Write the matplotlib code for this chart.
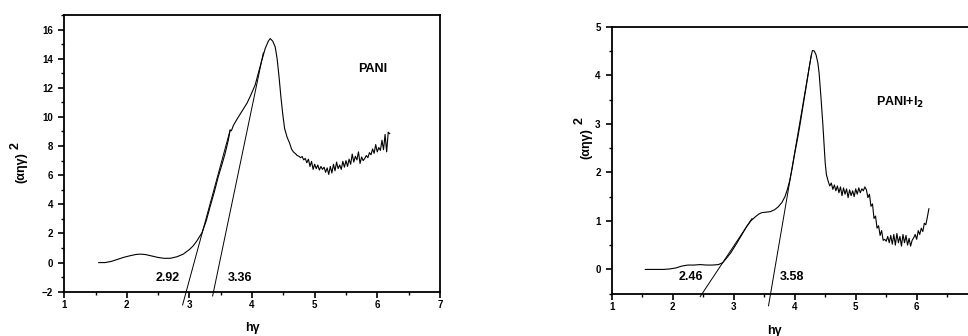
import matplotlib
matplotlib.use("Agg")
import matplotlib.pyplot as plt
from matplotlib.ticker import MultipleLocator

plt.rcParams['font.family'] = ['Liberation Sans', 'DejaVu Sans']
plt.rcParams['font.weight'] = 'bold'

# PANI absorption curve, (alpha h nu)^2 vs h nu
pani_x = [1.55, 1.65, 1.75, 1.85, 1.95, 2.05, 2.15, 2.22, 2.30, 2.40, 2.50, 2.60,
          2.70, 2.80, 2.90, 3.00, 3.06, 3.12, 3.20, 3.27, 3.33, 3.40, 3.46, 3.52,
          3.57, 3.62, 3.65, 3.67, 3.70, 3.76, 3.84, 3.92, 3.98, 4.05, 4.10, 4.15,
          4.21, 4.26, 4.29, 4.33, 4.37, 4.40, 4.43, 4.46, 4.49, 4.52, 4.56, 4.60,
          4.63, 4.66, 4.70, 4.72,
          4.750, 4.775, 4.800, 4.825, 4.850, 4.875, 4.900, 4.925, 4.950, 4.975,
          5.000, 5.025, 5.050, 5.075, 5.100, 5.125, 5.150, 5.175, 5.200, 5.225,
          5.250, 5.275, 5.300, 5.325, 5.350, 5.375, 5.400, 5.425, 5.450, 5.475,
          5.500, 5.525, 5.550, 5.575, 5.600, 5.625, 5.650, 5.675, 5.700, 5.725,
          5.750, 5.775, 5.800, 5.825, 5.850, 5.875, 5.900, 5.925, 5.950, 5.975,
          6.000, 6.025, 6.050, 6.075, 6.100, 6.125, 6.150, 6.175, 6.200]
pani_y = [0.00, 0.00, 0.08, 0.22, 0.36, 0.47, 0.56, 0.58, 0.55, 0.45, 0.35, 0.29,
          0.30, 0.40, 0.58, 0.90, 1.15, 1.50, 2.05, 2.90, 3.85, 4.90, 5.90, 6.75,
          7.50, 8.40, 9.10, 9.05, 9.40, 9.85, 10.40, 10.95, 11.50, 12.20, 13.00, 13.80,
          14.70, 15.20, 15.38, 15.20, 14.80, 14.00, 12.80, 11.40, 10.20, 9.20, 8.60, 8.20,
          7.80, 7.60, 7.45, 7.35,
          7.30, 7.20, 7.28, 7.05, 7.15, 6.85, 7.10, 6.60, 6.95, 6.40,
          6.75, 6.45, 6.70, 6.35, 6.60, 6.40, 6.55, 6.20, 6.50, 6.05,
          6.60, 6.15, 6.75, 6.30, 6.90, 6.45, 6.70, 6.40, 6.95, 6.55,
          7.00, 6.60, 7.10, 6.75, 7.45, 6.90, 7.30, 7.05, 7.60, 6.80,
          7.25, 7.00, 7.15, 7.35, 7.20, 7.55, 7.40, 7.80, 7.50, 8.10,
          7.60, 7.90, 7.70, 8.40, 7.75, 8.80, 7.60, 8.95, 8.85]

# PANI + I2 absorption curve
pani_i2_x = [1.55, 1.70, 1.85, 1.95, 2.05, 2.15, 2.25, 2.35, 2.45, 2.55, 2.65, 2.75,
             2.82, 2.88, 2.95, 3.05, 3.13, 3.21, 3.28, 3.35, 3.41, 3.46, 3.53, 3.60,
             3.67, 3.73, 3.79, 3.84, 3.88, 3.92, 3.96, 4.00, 4.05, 4.09, 4.13, 4.17,
             4.21, 4.24, 4.27, 4.29, 4.32, 4.35, 4.38, 4.40, 4.43, 4.46, 4.48, 4.50,
             4.52,
             4.550, 4.575, 4.600, 4.625, 4.650, 4.675, 4.700, 4.725, 4.750, 4.775,
             4.800, 4.825, 4.850, 4.875, 4.900, 4.925, 4.950, 4.975, 5.000, 5.025,
             5.050, 5.075, 5.100, 5.125, 5.150, 5.175, 5.200, 5.225, 5.250, 5.275,
             5.300, 5.325, 5.350, 5.375, 5.400, 5.425, 5.450, 5.475, 5.500, 5.525,
             5.550, 5.575, 5.600, 5.625, 5.650, 5.675, 5.700, 5.725, 5.750, 5.775,
             5.800, 5.825, 5.850, 5.875, 5.900, 5.925, 5.950, 5.975, 6.000, 6.025,
             6.050, 6.075, 6.100, 6.125, 6.150, 6.175, 6.200]
pani_i2_y = [0.00, 0.00, 0.00, 0.01, 0.03, 0.07, 0.09, 0.09, 0.10, 0.09, 0.09, 0.10,
             0.14, 0.23, 0.34, 0.54, 0.71, 0.88, 1.00, 1.08, 1.14, 1.17, 1.18, 1.19,
             1.23, 1.29, 1.38, 1.50, 1.65, 1.84, 2.10, 2.39, 2.72, 3.01, 3.32, 3.63,
             3.94, 4.18, 4.40, 4.51, 4.50, 4.42, 4.25, 4.04, 3.55, 3.01, 2.60, 2.19,
             1.95,
             1.81, 1.72, 1.78, 1.65, 1.74, 1.62, 1.72, 1.58, 1.70, 1.52,
             1.68, 1.55, 1.66, 1.48, 1.64, 1.52, 1.62, 1.50, 1.66, 1.55,
             1.68, 1.58, 1.66, 1.62, 1.70, 1.64, 1.48, 1.55, 1.30, 1.35,
             1.05, 1.10, 0.85, 0.90, 0.70, 0.80, 0.60, 0.62, 0.58, 0.68,
             0.55, 0.70, 0.52, 0.72, 0.50, 0.74, 0.55, 0.68, 0.48, 0.72,
             0.55, 0.70, 0.50, 0.64, 0.48, 0.60, 0.65, 0.72, 0.62, 0.80,
             0.72, 0.85, 0.78, 0.95, 0.92, 1.08, 1.25]

# tangent (Tauc) lines: end points as drawn
pani_fit1_x, pani_fit1_y = [2.89, 3.65], [-2.91, 9.10]
pani_fit2_x, pani_fit2_y = [3.37, 4.18], [-2.29, 14.40]
pani_i2_fit1_x, pani_i2_fit1_y = [2.45, 3.30], [-0.56, 1.05]
pani_i2_fit2_x, pani_i2_fit2_y = [3.57, 4.27], [-0.75, 4.40]

pani_gaps = ["2.92", "3.36"]
pani_i2_gaps = ["2.46", "3.58"]


def style_axes(ax, ymin, ymax, ymajor, yminor):
    ax.set_xlim(1, 7)
    ax.set_ylim(ymin, ymax)
    ax.xaxis.set_major_locator(MultipleLocator(1))
    ax.xaxis.set_minor_locator(MultipleLocator(0.5))
    ax.yaxis.set_major_locator(MultipleLocator(ymajor))
    ax.yaxis.set_minor_locator(MultipleLocator(yminor))
    ax.tick_params(which='major', direction='out', length=4, width=1.2, labelsize=7)
    ax.tick_params(axis='x', which='major', pad=2)
    ax.tick_params(axis='y', which='major', pad=4)
    ax.tick_params(which='minor', direction='out', length=2, width=1.0)
    for s in ax.spines.values():
        s.set_linewidth(1.3)
    for lab in ax.get_xticklabels() + ax.get_yticklabels():
        lab.set_fontweight('bold')


fig = plt.figure(figsize=(9.68, 3.36), dpi=100)

ax1 = fig.add_axes([0.0664, 0.1318, 0.388, 0.8237])
ax1.plot(pani_x, pani_y, color='black', lw=0.8)
ax1.plot(pani_fit1_x, pani_fit1_y, color='black', lw=0.7, clip_on=False)
ax1.plot(pani_fit2_x, pani_fit2_y, color='black', lw=0.7, clip_on=False)
style_axes(ax1, -2, 17, 2, 1)
ax1.text(2.66, -1.09, pani_gaps[0], fontsize=9, fontweight='bold', ha='center', va='center')
ax1.text(3.80, -1.05, pani_gaps[1], fontsize=9, fontweight='bold', ha='center', va='center')
ax1.text(5.92, 13.3, "PANI", fontsize=9, fontweight='bold', ha='center', va='center')

ax2 = fig.add_axes([0.632, 0.1259, 0.378, 0.7946])
ax2.plot(pani_i2_x, pani_i2_y, color='black', lw=0.8)
ax2.plot(pani_i2_fit1_x, pani_i2_fit1_y, color='black', lw=0.7, clip_on=False)
ax2.plot(pani_i2_fit2_x, pani_i2_fit2_y, color='black', lw=0.7, clip_on=False)
style_axes(ax2, -0.5, 5, 1, 0.5)
# the tick at 7 falls outside the picture in the original
ax2.set_xticks([1, 2, 3, 4, 5, 6, 7], ["1", "2", "3", "4", "5", "6", ""])
for lab in ax2.get_xticklabels():
    lab.set_fontweight('bold')
ax2.text(2.30, -0.15, pani_i2_gaps[0], fontsize=9, fontweight='bold', ha='center', va='center')
ax2.text(3.95, -0.15, pani_i2_gaps[1], fontsize=9, fontweight='bold', ha='center', va='center')
ax2.text(5.73, 3.43, "PANI+I$_{\\mathbf{2}}$", fontsize=9, fontweight='bold', ha='center', va='center')

# axis labels (figure pixel positions as in the original)
W, H = 968, 336
for x, y in [(252, 328), (774, 331)]:
    fig.text(x / W, 1 - y / H, "hγ", fontsize=9, fontweight='bold', ha='center', va='center')
for x, y, sx, sy in [(21.5, 168, 15.5, 146), (586, 144, 579.5, 121)]:
    fig.text(x / W, 1 - y / H, "(αηγ)", fontsize=9, fontweight='bold', rotation=90,
             ha='center', va='center')
    fig.text(sx / W, 1 - sy / H, "2", fontsize=9, fontweight='bold', rotation=90,
             ha='center', va='center')

fig.savefig("out.png", dpi=100)
